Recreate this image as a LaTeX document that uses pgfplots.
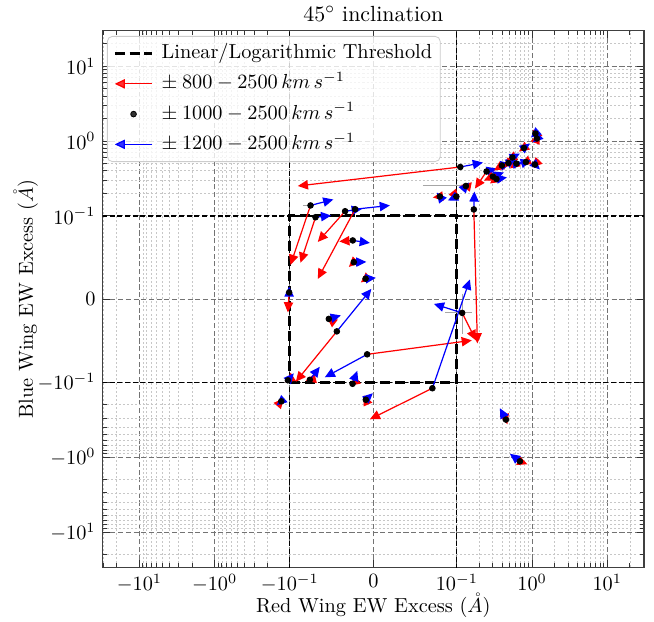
\documentclass[border=0pt]{standalone}
\usepackage{pgfplots}
\pgfplotsset{compat=1.18}
\usetikzlibrary{arrows.meta}

\tikzset{hd/.style={-{Triangle[length=5pt,width=4.6pt]}}}
% one object: black start point, red arrow and blue arrow
\newcommand{\arrw}[6]{%
 \addplot[red, line width=0.6pt, hd, forget plot] coordinates {(#1,#2) (#3,#4)};
 \addplot[blue, line width=0.6pt, hd, forget plot] coordinates {(#1,#2) (#5,#6)};
 \addplot[black, only marks, mark=*, mark size=1.4pt, forget plot] coordinates {(#1,#2)};
}

\begin{document}
\begin{tikzpicture}
\begin{axis}[
  scale only axis, width=266.7pt, height=264.2pt,
  xmin=-30.8, xmax=30.8, ymin=-29.5, ymax=29.5,
  x coord trafo/.code={\pgfmathparse{(#1>0.1) ? (1.11111+log10(10*max(#1,0.1))) : ((#1<-0.1) ? (0-1.11111-log10(10*max(0-(#1),0.1))) : (11.1111*(#1)))}},
  y coord trafo/.code={\pgfmathparse{(#1>0.1) ? (1.11111+log10(10*max(#1,0.1))) : ((#1<-0.1) ? (0-1.11111-log10(10*max(0-(#1),0.1))) : (11.1111*(#1)))}},
  xtick={-10,-1,-0.1,0,0.1,1,10},
  ytick={-10,-1,-0.1,0,0.1,1,10},
  xticklabels={$-10^{1}$,$-10^{0}$,$-10^{-1}$,$0$,$10^{-1}$,$10^{0}$,$10^{1}$},
  yticklabels={$-10^{1}$,$-10^{0}$,$-10^{-1}$,$0$,$10^{-1}$,$10^{0}$,$10^{1}$},
  minor xtick={-30,-20,-9,-8,-7,-6,-5,-4,-3,-2,-0.9,-0.8,-0.7,-0.6,-0.5,-0.4,-0.3,-0.2,0.2,0.3,0.4,0.5,0.6,0.7,0.8,0.9,2,3,4,5,6,7,8,9,20,30},
  minor ytick={-30,-20,-9,-8,-7,-6,-5,-4,-3,-2,-0.9,-0.8,-0.7,-0.6,-0.5,-0.4,-0.3,-0.2,0.2,0.3,0.4,0.5,0.6,0.7,0.8,0.9,2,3,4,5,6,7,8,9,20,30},
  grid=both,
  major grid style={black!55, line width=0.45pt, dash pattern=on 2.5pt off 1.3pt},
  minor grid style={black!22, line width=0.35pt, dash pattern=on 1pt off 1pt},
  tick align=inside,
  major tick length=3.5pt, minor tick length=2pt,
  tick style={black!80, line width=0.4pt},
  axis line style={black!75, line width=0.5pt},
  every axis title/.style={at={(axis description cs:0.5,1.0177)}, anchor=base, font=\fontsize{10.8}{13}\selectfont},
  every axis x label/.style={at={(axis description cs:0.5,-0.0852)}, anchor=base},
  every axis y label/.style={at={(axis description cs:-0.1288,0.5)}, rotate=90, anchor=base},
  title={45$^{\circ}$ inclination},
  xlabel={Red Wing EW Excess $(\mathring{A})$},
  ylabel={Blue Wing EW Excess $(\mathring{A})$},
  legend cell align=left,
  legend style={at={(0.0079,0.9907)}, anchor=north west, draw=black!20, fill=white,
    fill opacity=0.8, draw opacity=1, text opacity=1, rounded corners=2.5pt,
    inner xsep=3pt, inner ysep=2.5pt, row sep=2.9pt, column sep=3pt,
    nodes={inner sep=1pt, text height=7.5pt, text depth=2.5pt}},
]
\addlegendimage{legend image code/.code={\draw[black, line width=1.3pt, dash pattern=on 4.9pt off 2.4pt] (0cm,0cm) -- (0.65cm,0cm);}}
\addlegendentry{Linear/Logarithmic Threshold}
\addlegendimage{legend image code/.code={\draw[red, line width=0.6pt, {Triangle[length=5pt,width=4.6pt]}-] (0cm,0cm) -- (0.65cm,0cm);}}
\addlegendentry{$\pm\:800-2500\,km\,s^{-1}$}
\addlegendimage{legend image code/.code={\fill[black] (0.325cm,0cm) circle (1.4pt);}}
\addlegendentry{$\pm\:1000-2500\,km\,s^{-1}$}
\addlegendimage{legend image code/.code={\draw[blue, line width=0.6pt, {Triangle[length=5pt,width=4.6pt]}-] (0cm,0cm) -- (0.65cm,0cm);}}
\addlegendentry{$\pm\:1200-2500\,km\,s^{-1}$}

% threshold lines across the whole plot
\addplot[black, line width=0.6pt, dash pattern=on 2.5pt off 1.3pt, forget plot] coordinates {(-0.1,-40) (-0.1,40)};
\addplot[black, line width=0.6pt, dash pattern=on 2.5pt off 1.3pt, forget plot] coordinates {(0.1,-40) (0.1,40)};
\addplot[black, line width=0.6pt, dash pattern=on 2.5pt off 1.3pt, forget plot] coordinates {(-40,-0.1) (40,-0.1)};
\addplot[black, line width=0.6pt, dash pattern=on 2.5pt off 1.3pt, forget plot] coordinates {(-40,0.1) (40,0.1)};
% linear / logarithmic threshold box
\addplot[black, line width=1.4pt, dash pattern=on 5pt off 2.4pt, forget plot] coordinates {(-0.1,-0.1) (0.1,-0.1) (0.1,0.1) (-0.1,0.1) (-0.1,-0.1)};

% faint error bars
\addplot[black!35, line width=0.5pt, forget plot] coordinates {(0.0593,0.251) (0.1318,0.251)};
\addplot[black!35, line width=0.5pt, forget plot] coordinates {(0.0856,-0.0166) (0.157,-0.0166)};
\addplot[black!35, line width=0.5pt, forget plot] coordinates {(0.1176,0.0065) (0.1176,-0.0415)};
\addplot[black!35, line width=0.5pt, forget plot] coordinates {(-0.0844,0.138) (-0.0752,0.138)};

% start (x,y), red end (x,y), blue end (x,y)
\arrw{0.111}{0.450}{-0.0904}{0.251}{0.222}{0.516}
\arrw{-0.0752}{0.138}{-0.0992}{0.0411}{-0.0479}{0.1656}
\arrw{-0.0692}{0.0984}{-0.0872}{0.0437}{-0.0505}{0.1012}
\arrw{-0.0338}{0.1155}{-0.0665}{0.0687}{-0.0138}{0.1236}
\arrw{-0.0218}{0.1229}{-0.0665}{0.0242}{0.0198}{0.138}
\arrw{-0.0246}{0.0705}{-0.0407}{0.0693}{-0.0042}{0.0675}
\arrw{-0.0234}{0.0444}{-0.0293}{0.0387}{-0.0084}{0.0447}
\arrw{-0.0093}{0.0245}{-0.015}{0.020}{0.003}{0.0255}
\arrw{-0.102}{0.008}{-0.106}{-0.016}{-0.102}{0.0152}
\arrw{-0.0533}{-0.0238}{-0.0557}{-0.022}{-0.0389}{-0.0196}
\arrw{-0.0437}{-0.0388}{-0.0928}{-0.0994}{-0.0024}{0.0122}
\arrw{-0.0074}{-0.0664}{0.158}{-0.0496}{-0.0581}{-0.094}
\arrw{0.168}{0.122}{0.1875}{-0.0532}{0.171}{0.212}
\arrw{0.1176}{-0.0166}{0.179}{-0.0496}{0.0725}{-0.0058}
\arrw{0.0707}{-0.120}{-0.0042}{-0.312}{0.149}{0.0236}
\arrw{-0.106}{-0.0976}{-0.1166}{-0.100}{-0.0952}{-0.0892}
\arrw{-0.076}{-0.097}{-0.0808}{-0.0982}{-0.0641}{-0.0814}
\arrw{-0.0249}{-0.1047}{-0.0281}{-0.1114}{-0.0192}{-0.0862}
\arrw{-0.009}{-0.171}{-0.0114}{-0.149}{-0.0006}{-0.140}
\arrw{-0.1298}{-0.1794}{-0.120}{-0.1636}{-0.149}{-0.203}
\arrw{0.449}{-0.315}{0.470}{-0.364}{0.373}{-0.222}
\arrw{0.689}{-1.135}{0.867}{-1.244}{0.507}{-0.901}
\arrw{0.0796}{0.1815}{0.0713}{0.176}{0.076}{0.205}
\arrw{0.0994}{0.1815}{0.1063}{0.1656}{0.0892}{0.1606}
\arrw{0.1318}{0.251}{0.113}{0.259}{0.1445}{0.279}
\arrw{0.248}{0.392}{0.174}{0.232}{0.340}{0.430}
\arrw{0.301}{0.336}{0.229}{0.297}{0.422}{0.380}
\arrw{0.336}{0.311}{0.275}{0.271}{0.463}{0.326}
\arrw{0.397}{0.471}{0.311}{0.404}{0.523}{0.500}
\arrw{0.484}{0.508}{0.410}{0.443}{0.610}{0.584}
\arrw{0.548}{0.603}{0.463}{0.550}{0.689}{0.681}
\arrw{0.619}{0.500}{0.507}{0.430}{0.755}{0.516}
\arrw{0.779}{0.807}{0.668}{0.724}{0.936}{0.926}
\arrw{0.828}{0.524}{0.711}{0.486}{0.966}{0.550}
\arrw{1.109}{1.259}{1.026}{1.425}{0.966}{1.114}
\arrw{1.161}{1.080}{1.234}{1.259}{1.026}{0.955}
\arrw{1.091}{0.486}{0.995}{0.443}{1.271}{0.417}

\coordinate (bbsw) at (rel axis cs:-0.1897,-0.102);
\coordinate (bbne) at (rel axis cs:1.0185,1.0578);
\end{axis}
\pgfresetboundingbox
\useasboundingbox (bbsw) rectangle (bbne);
\end{tikzpicture}
\end{document}
